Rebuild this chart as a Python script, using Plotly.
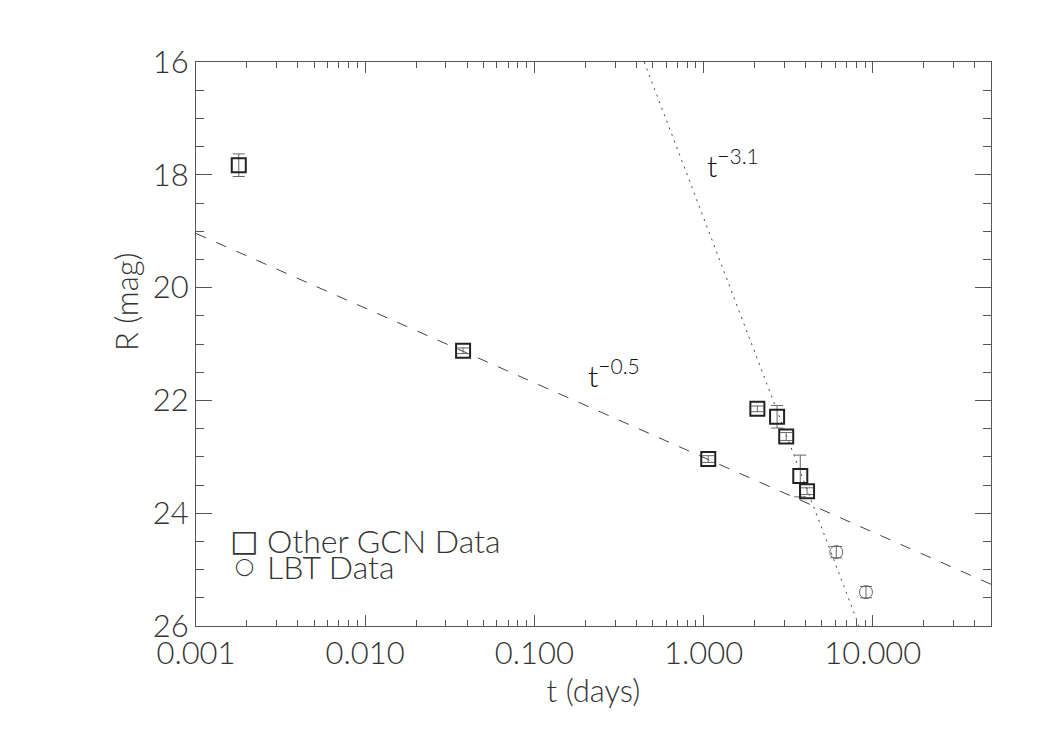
import plotly.graph_objects as go
import numpy as np

# ---- data ----
gcn_t = [0.00179, 0.0379, 1.066, 2.08, 2.72, 3.08, 3.73, 4.09]
gcn_r = [17.83, 21.12, 23.04, 22.15, 22.29, 22.64, 23.34, 23.61]
gcn_err = [0.20, 0.05, 0.06, 0.05, 0.20, 0.07, 0.37, 0.06]

lbt_t = [6.09, 9.12]
lbt_r = [24.69, 25.40]
lbt_err = [0.10, 0.10]

# power-law fit lines (endpoints)
shallow_t = [0.001, 50.0]
shallow_r = [19.04, 25.26]
steep_t = [0.446, 8.30]
steep_r = [16.0, 26.0]

xtick_vals = [0.001, 0.01, 0.1, 1.0, 10.0]
xtick_text = ["0.001", "0.010", "0.100", "1.000", "10.000"]
ytick_vals = [16, 18, 20, 22, 24, 26]

legend_symbols = ["□", "◯"]
legend_labels = ["Other GCN Data", "LBT Data"]

FONT = "Lato"
W = 300
TXT = "#333333"
LINE = "#555555"

fig = go.Figure()

fig.add_trace(go.Scatter(x=shallow_t, y=shallow_r, mode="lines",
                         line=dict(color="#444444", width=1, dash="11px,11px"),
                         showlegend=False, hoverinfo="skip"))
fig.add_trace(go.Scatter(x=steep_t, y=steep_r, mode="lines",
                         line=dict(color="#444444", width=1, dash="2px,5px"),
                         showlegend=False, hoverinfo="skip"))

fig.add_trace(go.Scatter(x=gcn_t, y=gcn_r, mode="markers", name="Other GCN Data",
                         marker=dict(symbol="square-open", size=14, color="#222222",
                                     line=dict(width=2, color="#222222")),
                         error_y=dict(type="data", array=gcn_err, color="#666666",
                                      thickness=1, width=6),
                         showlegend=False))
fig.add_trace(go.Scatter(x=lbt_t, y=lbt_r, mode="markers", name="LBT Data",
                         marker=dict(symbol="circle-open", size=13, color="#666666",
                                     line=dict(width=1, color="#666666")),
                         error_y=dict(type="data", array=lbt_err, color="#666666",
                                      thickness=1, width=6),
                         showlegend=False))

minor_x = []
for k in range(-3, 2):
    for d in range(2, 10):
        v = d * 10.0 ** k
        if v <= 50:
            minor_x.append(v)

tick_font = dict(family=FONT, size=31, color=TXT, weight=W)

fig.update_xaxes(type="log", range=[-3, np.log10(50)],
                 tickvals=xtick_vals, ticktext=xtick_text,
                 ticks="inside", ticklen=11, tickwidth=1, tickcolor=LINE,
                 minor=dict(tickvals=minor_x, ticks="inside", ticklen=6,
                            tickwidth=1, tickcolor=LINE, showgrid=False),
                 showline=True, linecolor=LINE, linewidth=1, mirror="allticks",
                 showgrid=False, zeroline=False,
                 tickfont=tick_font,
                 title=dict(text="t (days)", font=tick_font, standoff=6))
fig.update_yaxes(range=[26, 16], tickvals=ytick_vals,
                 ticks="inside", ticklen=16, tickwidth=1, tickcolor=LINE,
                 minor=dict(dtick=0.5, ticks="inside", ticklen=8,
                            tickwidth=1, tickcolor=LINE, showgrid=False),
                 showline=True, linecolor=LINE, linewidth=1, mirror="allticks",
                 showgrid=False, zeroline=False,
                 tickfont=tick_font)

# y-axis title placed like the reference
fig.add_annotation(x=(126 - 196) / 795, y=(626 - 302) / 564, xref="paper", yref="paper",
                   text="R (mag)", textangle=-90, showarrow=False,
                   xanchor="center", yanchor="middle", font=tick_font)

ann_font = dict(family=FONT, size=30, color="#111111", weight=W)
fig.add_annotation(x=np.log10(1.02), y=18.18, xref="x", yref="y", text="t<sup>−3.1</sup>",
                   showarrow=False, xanchor="left", yanchor="bottom", font=ann_font)
fig.add_annotation(x=np.log10(0.202), y=21.91, xref="x", yref="y", text="t<sup>−0.5</sup>",
                   showarrow=False, xanchor="left", yanchor="bottom", font=ann_font)

# legend drawn as text: symbol + label
leg_font = dict(family=FONT, size=32, color=TXT, weight=W)
sym_sizes = [30, 17]
for i, (sym, lab) in enumerate(zip(legend_symbols, legend_labels)):
    yp = (626 - (540 + 26 * i)) / 564
    fig.add_annotation(x=(244 - 196) / 795, y=yp, xref="paper", yref="paper",
                       text=sym, showarrow=False, xanchor="center", yanchor="middle",
                       font=dict(family="DejaVu Sans", size=sym_sizes[i], color=TXT))
    fig.add_annotation(x=(265 - 196) / 795, y=yp, xref="paper", yref="paper",
                       text=lab, showarrow=False, xanchor="left", yanchor="middle",
                       font=leg_font)

# the page adds an 8px body margin, so margins are reduced accordingly
fig.update_layout(width=1050, height=750,
                  margin=dict(l=188, r=67, t=54, b=132),
                  plot_bgcolor="white", paper_bgcolor="white",
                  showlegend=False)

fig.write_html("out.html")
